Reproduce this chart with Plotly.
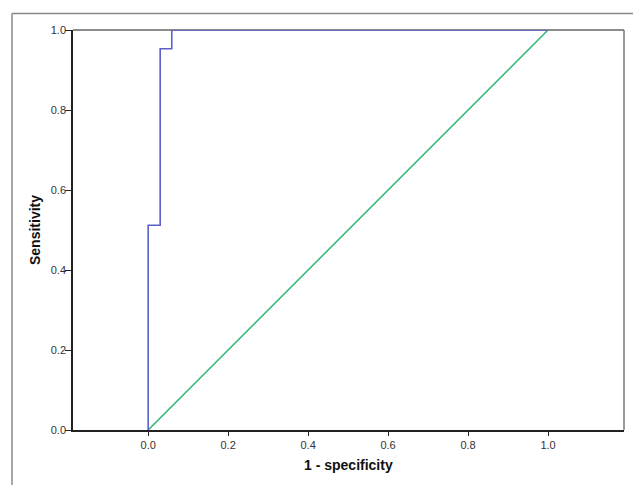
import plotly.graph_objects as go

# ROC curve data (step curve)
fpr = [0.0, 0.0, 0.03, 0.03, 0.059, 0.059, 1.0]
tpr = [0.0, 0.512, 0.512, 0.953, 0.953, 1.0, 1.0]
# reference diagonal
diag_x = [0.0, 1.0]
diag_y = [0.0, 1.0]

x_ticks = [0.0, 0.2, 0.4, 0.6, 0.8, 1.0]
y_ticks = [0.0, 0.2, 0.4, 0.6, 0.8, 1.0]

W, H = 633, 485
L, R, T, B = 73, 9, 29.5, 54.5
pw, ph = W - L - R, H - T - B

def px_x(p):
    return (p - L) / pw

def px_y(p):
    return (H - B - p) / ph

fig = go.Figure()
fig.add_trace(go.Scatter(x=diag_x, y=diag_y, mode="lines",
                         line=dict(color="#3cb878", width=1.6), hoverinfo="skip"))
fig.add_trace(go.Scatter(x=fpr, y=tpr, mode="lines",
                         line=dict(color="#5a60c8", width=1.6), hoverinfo="skip"))

tickfont = dict(family="Arial, Liberation Sans, sans-serif", size=11, color="#333333")
fig.update_xaxes(range=[-0.188, 1.19], tickvals=x_ticks, ticktext=[f"{v:.1f}" for v in x_ticks],
                 showgrid=False, zeroline=False, showline=True, linecolor="#222222", linewidth=1.5,
                 ticks="outside", ticklen=4, tickcolor="#222222", tickwidth=1.2, tickfont=tickfont)
fig.update_yaxes(range=[0, 1], tickvals=y_ticks, ticktext=[f"{v:.1f}" for v in y_ticks],
                 showgrid=False, zeroline=False, showline=True, linecolor="#222222", linewidth=1.5,
                 ticks="outside", ticklen=6, tickcolor="#222222", tickwidth=1.2, tickfont=tickfont,
                 ticklabelstandoff=-3)

# plot area top/right border (gray)
fig.add_shape(type="line", xref="paper", yref="paper", x0=0, x1=1, y0=1, y1=1,
              line=dict(color="#666666", width=1.3), layer="below")
fig.add_shape(type="line", xref="paper", yref="paper", x0=1, x1=1, y0=0, y1=1,
              line=dict(color="#666666", width=1.3))
# outer frame (left and top visible)
fig.add_shape(type="line", xref="paper", yref="paper", x0=px_x(12), x1=px_x(12), y0=px_y(500), y1=px_y(13),
              line=dict(color="#888888", width=1.5))
fig.add_shape(type="line", xref="paper", yref="paper", x0=px_x(12), x1=px_x(650), y0=px_y(13), y1=px_y(13),
              line=dict(color="#888888", width=1.5))

titlefont = dict(family="Arial, Liberation Sans, sans-serif", size=14, color="#111111")
fig.add_annotation(text="<b>1 - specificity</b>", xref="paper", yref="paper",
                   x=px_x(348), y=px_y(466), showarrow=False, font=titlefont,
                   xanchor="center", yanchor="middle")
fig.add_annotation(text="<b>Sensitivity</b>", xref="paper", yref="paper",
                   x=px_x(35), y=px_y(230), showarrow=False, font=titlefont, textangle=-90,
                   xanchor="center", yanchor="middle")

fig.update_layout(width=W, height=H, margin=dict(l=L, r=R, t=T, b=B),
                  plot_bgcolor="white", paper_bgcolor="white", showlegend=False)

fig.write_html("out.html")
